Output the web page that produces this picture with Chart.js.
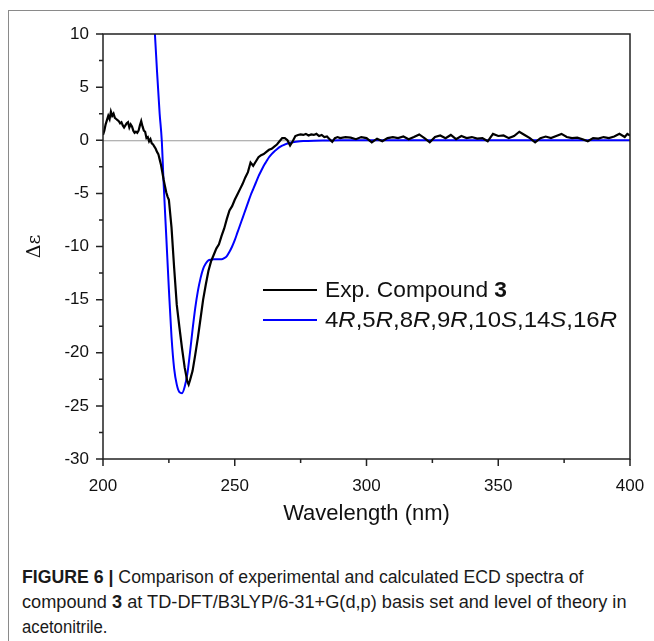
<!DOCTYPE html>
<html>
<head>
<meta charset="utf-8">
<script src="https://cdn.jsdelivr.net/npm/chart.js@4"></script>
<style>
  body { margin: 0; background: #fff; width: 654px; height: 641px; overflow: hidden; position: relative; }
  #moldura { position: absolute; left: 8px; top: 10px; width: 660px; height: 640px;
             border-top: 1px solid #8a8a8a; border-left: 1px solid #8a8a8a; }
  #grafico { position: absolute; left: 0; top: 0; }
  #legenda { position: absolute; left: 22px; top: 565px; width: 640px;
             font-family: "Liberation Sans", Arial, sans-serif; font-size: 17.5px;
             line-height: 25px; color: #1a1a1a; }
  #legenda span { display: inline-block; white-space: nowrap; transform-origin: 0 50%; }
</style>
</head>
<body>
<div id="moldura"></div>
<canvas id="grafico" width="654" height="540"></canvas>
<div id="legenda">
  <span data-largura="561"><b>FIGURE 6 |</b> Comparison of experimental and calculated ECD spectra of</span><br>
  <span data-largura="605">compound <b>3</b> at TD-DFT/B3LYP/6-31+G(d,p) basis set and level of theory in</span><br>
  <span data-largura="86">acetonitrile.</span>
</div>
<script>
// experimental spectrum (nm / delta epsilon)
const expNm = [200,200.5,201,201.5,202,202.5,203,203.5,204,204.5,205,205.5,206,206.5,207,207.5,208,208.5,209,209.5,
  210,210.5,211,211.5,212,212.5,213,213.5,214,214.5,215,215.5,216,216.5,217,217.5,218,218.5,219,219.5,
  220,220.5,221,221.5,222,222.5,223,223.5,224,224.5,225,226,227,228,229,230,231,232,232.5,233,
  234,235,236,237,238,239,240,241,242,243,244,245,246,247,248,249,250,251,252,253,
  254,255,256,257,258,259,260,261,262,263,264,265,266,267,268,269,270,271,272,273,
  274,275,276,277,278,279,280,281,282,283,284,285,286,287,288,289,290,292,294,296,
  298,300,302,304,306,308,310,312,314,316,318,320,322,324,326,328,330,332,334,336,
  338,340,342,344,346,348,350,352,354,356,358,360,362,364,366,368,370,372,374,376,
  378,380,382,384,386,388,390,392,394,396,398,399,400];
const expVal = [0.5,0.9,1.5,1.9,2.3,2.0,2.7,2.3,2.5,2.1,2.0,1.9,1.8,1.6,1.7,1.4,1.2,1.4,1.6,1.7,
  1.2,1.5,1.3,0.9,0.7,0.8,0.7,0.9,1.4,1.8,1.3,0.9,0.8,0.2,0.3,-0.1,0.1,-0.3,-0.4,-0.6,
  -0.8,-1.1,-1.3,-1.8,-2.3,-3.0,-3.7,-4.3,-4.9,-5.3,-5.6,-8.2,-12.0,-15.5,-17.6,-19.6,-21.4,-22.7,-23.0,-22.6,
  -21.7,-20.2,-18.6,-16.8,-15.0,-13.6,-12.3,-11.4,-10.8,-10.2,-9.8,-9.0,-8.3,-7.4,-6.6,-6.2,-5.6,-5.1,-4.6,-4.1,
  -3.5,-3.0,-2.1,-2.4,-2.0,-1.6,-1.4,-1.3,-1.1,-0.9,-0.8,-0.6,-0.4,-0.1,0.2,0.2,0.0,-0.5,-0.1,0.4,
  0.5,0.55,0.5,0.6,0.45,0.55,0.5,0.6,0.4,0.5,0.3,0.35,0.1,-0.15,0.2,0.3,0.2,0.3,0.25,0.1,
  0.3,0.2,-0.2,0.15,-0.1,0.2,0.3,0.2,0.35,0.1,0.3,0.55,0.2,-0.2,0.3,0.45,0.2,0.5,0.1,0.4,
  0.2,0.3,0.15,0.2,-0.1,0.6,0.4,0.45,0.2,0.4,0.8,0.5,0.2,-0.2,0.2,0.35,0.2,0.4,0.6,0.3,
  0.2,0.25,0.1,-0.1,0.2,0.15,0.3,0.2,0.35,0.6,0.3,0.6,0.45];

// calculated spectrum
const calcNm = [218,219,219.7,220.5,221.5,222.3,223,224,225,226,227,228,229,230,231,232,233,234,235,236,
  237,238,239,240,241,242,243,244,245,246,247,248,249,250,251,252,253,254,255,256,
  257,258,259,260,261,262,263,264,265,266,267,268,269,270,272,274,276,280,285,290,300,350,400];
const calcVal = [16,12.5,10,6.5,2.5,0,-4,-9,-14,-18.5,-21.5,-23,-23.7,-23.8,-23.2,-22,-20,-17.8,-15.8,-14.2,
  -13,-12.1,-11.6,-11.3,-11.25,-11.2,-11.2,-11.2,-11.2,-11.1,-10.9,-10.5,-10.0,-9.4,-8.7,-8.0,-7.3,-6.6,-5.9,-5.2,
  -4.6,-4.0,-3.4,-2.9,-2.4,-2.0,-1.6,-1.3,-1.05,-0.85,-0.65,-0.5,-0.4,-0.3,-0.2,-0.12,-0.08,-0.04,-0.02,0,0,0,0];

const rotulosSerie = ['Exp. Compound 3', '4R,5R,8R,9R,10S,14S,16R'];
const eixoX = { min: 200, max: 400, passo: 25, titulo: 'Wavelength (nm)' };
const eixoY = { min: -30, max: 10, passo: 2.5, titulo: 'Δε' };

const fonte = '"Liberation Sans", Arial, sans-serif';

function pontos(xs, ys) {
  return xs.map((x, i) => ({ x: x, y: ys[i] }));
}

// desenha trechos de texto com estilos diferentes, esticado ate a largura pedida
function textoMisto(ctx, partes, x, y, tam, largura) {
  let total = 0;
  partes.forEach(p => {
    ctx.font = (p[1] || '') + ' ' + tam + 'px ' + fonte;
    total += ctx.measureText(p[0]).width;
  });
  ctx.save();
  ctx.translate(x, y);
  ctx.scale(largura / total, 1);
  let cx = 0;
  partes.forEach(p => {
    ctx.font = (p[1] || '') + ' ' + tam + 'px ' + fonte;
    ctx.fillText(p[0], cx, 0);
    cx += ctx.measureText(p[0]).width;
  });
  ctx.restore();
}

const molduraPlugin = {
  id: 'molduraPlugin',
  beforeDatasetsDraw(chart) {
    const { ctx, chartArea: a, scales: { y } } = chart;
    const y0 = y.getPixelForValue(0);
    ctx.save();
    ctx.strokeStyle = '#9a9a9a';
    ctx.lineWidth = 1;
    ctx.beginPath();
    ctx.moveTo(a.left, y0 + 0.5);
    ctx.lineTo(a.right, y0 + 0.5);
    ctx.stroke();
    ctx.restore();
  },
  afterDatasetsDraw(chart) {
    const { ctx, chartArea: a, scales: { x, y } } = chart;
    ctx.save();
    ctx.strokeStyle = '#222';
    ctx.lineWidth = 1.5;
    ctx.strokeRect(a.left, a.top, a.right - a.left, a.bottom - a.top);

    // marcas dos eixos, para fora
    ctx.beginPath();
    y.ticks.forEach(t => {
      const py = y.getPixelForValue(t.value);
      const len = t.value % 5 === 0 ? 7 : 4;
      ctx.moveTo(a.left - len, py);
      ctx.lineTo(a.left, py);
    });
    x.ticks.forEach(t => {
      const px = x.getPixelForValue(t.value);
      const len = t.value % 50 === 0 ? 7 : 4;
      ctx.moveTo(px, a.bottom);
      ctx.lineTo(px, a.bottom + len);
    });
    ctx.stroke();

    // titulos dos eixos
    ctx.fillStyle = '#111';
    ctx.textAlign = 'center';
    ctx.textBaseline = 'middle';
    ctx.font = '22px ' + fonte;
    ctx.fillText(eixoX.titulo, (a.left + a.right) / 2, 514);
    ctx.save();
    ctx.translate(35, (a.top + a.bottom) / 2);
    ctx.rotate(-Math.PI / 2);
    ctx.font = '19px "DejaVu Serif", serif';
    ctx.fillText(eixoY.titulo, 0, 0);
    ctx.restore();

    // legenda
    const cores = ['#000', '#0000ff'];
    const larguras = [182, 292];
    const linhas = [
      [['Exp. Compound '], ['3', 'bold']],
      [['4'], ['R', 'italic'], [',5'], ['R', 'italic'], [',8'], ['R', 'italic'], [',9'], ['R', 'italic'],
       [',10'], ['S', 'italic'], [',14'], ['S', 'italic'], [',16'], ['R', 'italic']]
    ];
    ctx.textAlign = 'left';
    ctx.textBaseline = 'middle';
    linhas.forEach((partes, i) => {
      const ly = 290 + i * 30;
      ctx.strokeStyle = cores[i];
      ctx.lineWidth = 2;
      ctx.beginPath();
      ctx.moveTo(263, ly);
      ctx.lineTo(317, ly);
      ctx.stroke();
      textoMisto(ctx, partes, 325, ly + 1, 22.5, larguras[i]);
    });
    ctx.restore();
  }
};

new Chart(document.getElementById('grafico'), {
  type: 'line',
  data: {
    datasets: [{
      label: rotulosSerie[0],
      data: pontos(expNm, expVal),
      borderColor: '#000',
      borderWidth: 2.2,
      pointRadius: 0,
      tension: 0
    }, {
      label: rotulosSerie[1],
      data: pontos(calcNm, calcVal),
      borderColor: '#0000ff',
      borderWidth: 2,
      pointRadius: 0,
      cubicInterpolationMode: 'monotone'
    }]
  },
  options: {
    responsive: false,
    animation: false,
    layout: { padding: { left: 0, right: 24, top: 34, bottom: 0 } },
    plugins: { legend: { display: false }, tooltip: { enabled: false } },
    scales: {
      x: {
        type: 'linear',
        min: eixoX.min, max: eixoX.max,
        grid: { display: false, drawTicks: false },
        border: { display: false },
        ticks: {
          stepSize: eixoX.passo,
          autoSkip: false,
          maxRotation: 0,
          padding: 17,
          color: '#111',
          font: { family: fonte, size: 17 },
          callback: v => v % 50 === 0 ? String(v) : ''
        },
        afterFit: s => { s.height = 81; s.paddingLeft = 0; s.paddingRight = 0; }
      },
      y: {
        min: eixoY.min, max: eixoY.max,
        grid: { display: false, drawTicks: false },
        border: { display: false },
        ticks: {
          stepSize: eixoY.passo,
          autoSkip: false,
          padding: 14,
          color: '#111',
          font: { family: fonte, size: 17 },
          callback: v => v % 5 === 0 ? String(v) : ''
        },
        afterFit: s => { s.width = 103; s.paddingTop = 0; s.paddingBottom = 0; }
      }
    }
  },
  plugins: [molduraPlugin]
});

// ajusta cada linha da legenda a largura do original
document.querySelectorAll('#legenda span').forEach(s => {
  const alvo = parseFloat(s.dataset.largura);
  s.style.transform = 'scaleX(' + (alvo / s.offsetWidth) + ')';
});
</script>
</body>
</html>
